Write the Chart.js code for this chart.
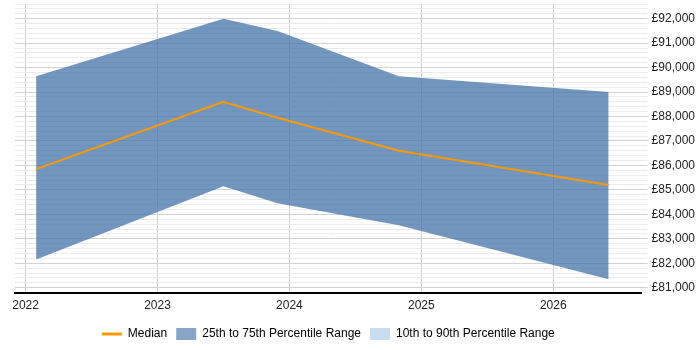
<!DOCTYPE html>
<html>
<head>
<meta charset="utf-8">
<script src="https://cdn.jsdelivr.net/npm/chart.js@4"></script>
<style>
  html, body { margin: 0; padding: 0; background: #fff; }
  #wrap { width: 700px; height: 350px; }
</style>
</head>
<body>
<div id="wrap"><canvas id="salary-chart"></canvas></div>
<script>
// x positions as fractional years
const dates = [2022.08, 2023.50, 2023.91, 2024.83, 2026.42];
const median = [85850, 88600, 87950, 86600, 85200];
const upper75 = [89650, 92000, 91500, 89650, 89000];
const lower25 = [82150, 85150, 84450, 83550, 81350];
const upper90 = [];
const lower10 = [];
const yearTicks = [2022, 2023, 2024, 2025, 2026];

const FONT = 'Arial, "Liberation Sans", sans-serif';
const pts = (vals) => vals.map((v, i) => ({ x: dates[i], y: v }));

const legendItems = [
  { text: 'Median', fillStyle: '#ff9900', strokeStyle: '#ff9900', lineWidth: 3, pointStyle: 'line', datasetIndex: 0 },
  { text: '25th to 75th Percentile Range', fillStyle: '#88a5c7', strokeStyle: 'rgba(0,0,0,0)', lineWidth: 0, pointStyle: 'rect', datasetIndex: 1 },
  { text: '10th to 90th Percentile Range', fillStyle: '#c9dbee', strokeStyle: 'rgba(0,0,0,0)', lineWidth: 0, pointStyle: 'rect', datasetIndex: 2 }
];

new Chart(document.getElementById('salary-chart'), {
  type: 'line',
  data: {
    datasets: [
      {
        label: 'Median',
        data: pts(median),
        borderColor: '#ff9900',
        borderWidth: 2,
        pointRadius: 0,
        fill: false,
        tension: 0
      },
      {
        label: '25th to 75th Percentile Range',
        data: pts(upper75),
        borderWidth: 0,
        borderColor: 'rgba(0,0,0,0)',
        backgroundColor: 'rgba(60,110,165,0.72)',
        pointRadius: 0,
        fill: 3,
        tension: 0
      },
      {
        label: '10th to 90th Percentile Range',
        data: pts(upper90),
        borderWidth: 0,
        backgroundColor: '#c9dbee',
        pointRadius: 0,
        fill: false
      },
      {
        label: 'lower25',
        data: pts(lower25),
        borderWidth: 0,
        borderColor: 'rgba(0,0,0,0)',
        pointRadius: 0,
        fill: false,
        tension: 0
      }
    ]
  },
  options: {
    responsive: true,
    maintainAspectRatio: false,
    animation: false,
    layout: { padding: { left: 15, top: 4, right: 1, bottom: 0 } },
    plugins: {
      tooltip: { enabled: false },
      legend: {
        position: 'bottom',
        fullSize: false,
        labels: {
          usePointStyle: true,
          pointStyleWidth: 20,
          boxHeight: 12,
          padding: 9,
          color: '#222',
          font: { family: FONT, size: 12 },
          generateLabels: () => legendItems.map(it => Object.assign({ hidden: false }, it))
        }
      }
    },
    scales: {
      x: {
        type: 'linear',
        min: 2021.92,
        max: 2026.67,
        afterBuildTicks: (scale) => { scale.ticks = yearTicks.map(v => ({ value: v })); },
        ticks: {
          color: '#222',
          padding: 6,
          maxRotation: 0,
          font: { family: FONT, size: 12 },
          callback: (v) => String(v)
        },
        grid: { color: '#cccccc', drawTicks: false },
        border: { display: true, color: '#000', width: 2 }
      },
      y: {
        position: 'right',
        min: 80800,
        max: 92600,
        // top tick has no label, so no room is needed above it
        afterFit: (scale) => { scale.paddingTop = 0; },
        ticks: {
          stepSize: 200,
          autoSkip: false,
          color: '#222',
          padding: 4,
          font: { family: FONT, size: 12 },
          callback: (v) => (v % 1000 === 0 ? '£' + v.toLocaleString('en-GB') : '')
        },
        grid: {
          color: (c) => (c.tick && c.tick.value % 1000 === 0 ? '#d2d2d2' : '#ebebeb'),
          tickLength: 6
        },
        border: { display: false }
      }
    }
  }
});
</script>
</body>
</html>
